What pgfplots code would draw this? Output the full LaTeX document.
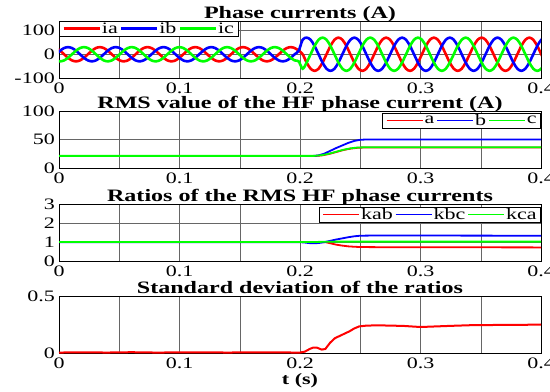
\documentclass[border=0pt]{standalone}
\usepackage{fontspec}
\setmainfont{Liberation Serif}[FakeStretch=1.38]
\usepackage{pgfplots}
\pgfplotsset{compat=1.18}
\usepackage{pgfplotstable}

\pgfplotstableread{
t ia ib ic
-0.0057 30 -15 -15
-0.0024 26 0 -26
0.0009 15 15 -30
0.0042 0 26 -26
0.0075 -15 30 -15
0.0108 -26 26 0
0.0141 -30 15 15
0.0174 -26 0 26
0.0207 -15 -15 30
0.0240 0 -26 26
0.0273 15 -30 15
0.0306 26 -26 0
0.0339 30 -15 -15
0.0372 26 0 -26
0.0405 15 15 -30
0.0438 0 26 -26
0.0471 -15 30 -15
0.0504 -26 26 0
0.0537 -30 15 15
0.0570 -26 0 26
0.0603 -15 -15 30
0.0636 0 -26 26
0.0669 15 -30 15
0.0702 26 -26 0
0.0735 30 -15 -15
0.0768 26 0 -26
0.0801 15 15 -30
0.0834 0 26 -26
0.0867 -15 30 -15
0.0900 -26 26 0
0.0933 -30 15 15
0.0966 -26 0 26
0.0999 -15 -15 30
0.1032 0 -26 26
0.1065 15 -30 15
0.1098 26 -26 0
0.1131 30 -15 -15
0.1164 26 0 -26
0.1197 15 15 -30
0.1230 0 26 -26
0.1263 -15 30 -15
0.1296 -26 26 0
0.1329 -30 15 15
0.1362 -26 0 26
0.1395 -15 -15 30
0.1428 0 -26 26
0.1461 15 -30 15
0.1494 26 -26 0
0.1527 30 -15 -15
0.1560 26 0 -26
0.1593 15 15 -30
0.1626 0 26 -26
0.1659 -15 30 -15
0.1692 -26 26 0
0.1725 -30 15 15
0.1758 -26 0 26
0.1791 -15 -15 30
0.1824 0 -26 26
0.1857 15 -30 15
0.1890 26 -26 0
0.1923 30 -15 -15
0.1956 26 0 -26
0.1989 15 15 -30
0.2022 0 61 -61
0.2055 -35 70 -35
0.2088 -61 61 0
0.2121 -70 35 35
0.2154 -61 0 61
0.2187 -35 -35 70
0.2220 0 -61 61
0.2253 35 -70 35
0.2286 61 -61 0
0.2319 70 -35 -35
0.2352 61 0 -61
0.2385 35 35 -70
0.2418 0 61 -61
0.2451 -35 70 -35
0.2484 -61 61 0
0.2517 -70 35 35
0.2550 -61 0 61
0.2583 -35 -35 70
0.2616 0 -61 61
0.2649 35 -70 35
0.2682 61 -61 0
0.2715 70 -35 -35
0.2748 61 0 -61
0.2781 35 35 -70
0.2814 0 61 -61
0.2847 -35 70 -35
0.2880 -61 61 0
0.2913 -70 35 35
0.2946 -61 0 61
0.2979 -35 -35 70
0.3012 0 -61 61
0.3045 35 -70 35
0.3078 61 -61 0
0.3111 70 -35 -35
0.3144 61 0 -61
0.3177 35 35 -70
0.3210 0 61 -61
0.3243 -35 70 -35
0.3276 -61 61 0
0.3309 -70 35 35
0.3342 -61 0 61
0.3375 -35 -35 70
0.3408 0 -61 61
0.3441 35 -70 35
0.3474 61 -61 0
0.3507 70 -35 -35
0.3540 61 0 -61
0.3573 35 35 -70
0.3606 0 61 -61
0.3639 -35 70 -35
0.3672 -61 61 0
0.3705 -70 35 35
0.3738 -61 0 61
0.3771 -35 -35 70
0.3804 0 -61 61
0.3837 35 -70 35
0.3870 61 -61 0
0.3903 70 -35 -35
0.3936 61 0 -61
0.3969 35 35 -70
0.4002 0 61 -61
0.4035 -35 70 -35
}\phasedata

\definecolor{mred}{RGB}{255,0,0}
\definecolor{mblue}{RGB}{0,0,255}
\definecolor{mgreen}{RGB}{0,255,0}

\pgfplotsset{
  every axis title/.style={at={(0.5,1)}, anchor=base, yshift=2.5bp, inner sep=0pt,
      font=\bfseries\fontsize{17.5}{18}\selectfont},
  myaxis/.style={
    scale only axis, width=482bp, height=57bp,
    xmin=0, xmax=0.4,
    xtick={0,0.1,0.2,0.3,0.4},
    xticklabels={0,0.1,0.2,0.3,0.4},
    minor xtick={0.05,0.15,0.25,0.35},
    xmajorgrids, xminorgrids, ymajorgrids,
    major grid style={line width=0.5bp, draw=black!60},
    minor grid style={line width=0.5bp, draw=black!60},
    major tick length=0pt, minor tick length=0pt,
    axis line style={line width=0.8bp},
    ticklabel style={font=\fontsize{16}{16}\selectfont},
    xticklabel style={inner sep=0pt, anchor=north, yshift=-5bp},
    yticklabel style={inner sep=0pt, anchor=east, xshift=-4bp},
    legend columns=-1,
    legend style={font=\fontsize{16}{16}\selectfont, draw=black, fill=white, line width=0.6bp,
      inner xsep=3bp, inner ysep=0pt, nodes={inner sep=1bp},
      /tikz/every even column/.append style={column sep=1bp}},
    legend image code/.code={\draw[##1] (0bp,0bp) -- (36bp,0bp);},
  }
}

\begin{document}
\begin{tikzpicture}
\path[use as bounding box] (0,0) rectangle (550bp,392bp);

% Axis 1: phase currents
\begin{axis}[myaxis, at={(59bp,314bp)}, anchor=south west,
  ymin=-100, ymax=140, ytick={-100,0,100}, yticklabels={-100,0,100},
  title={Phase currents (A)},
  legend style={at={(0,1)}, anchor=north west}]
\addplot[mred, line width=2.6bp, smooth] table[x=t, y=ia] {\phasedata};
\addplot[mblue, line width=2.6bp, smooth] table[x=t, y=ib] {\phasedata};
\addplot[mgreen, line width=2.6bp, smooth] table[x=t, y=ic] {\phasedata};
\legend{ia,ib,ic}
\end{axis}

% Axis 2: RMS values
\begin{axis}[myaxis, at={(59bp,224bp)}, anchor=south west,
  ymin=0, ymax=100, ytick={0,50,100}, yticklabels={0,50,100},
  title={RMS value of the HF phase current (A)}, clip=false,
  legend style={at={(1,1)}, anchor=north east, yshift=-2bp}]
\addplot[mred, line width=1.8bp] coordinates {(0,21) (0.05,21) (0.1,21) (0.15,21) (0.2,21) (0.212,21) (0.218,22) (0.224,24.5) (0.23,28) (0.236,31.5) (0.242,34) (0.248,35.5) (0.254,36) (0.3,36) (0.35,36) (0.4,36)};
\addplot[mblue, line width=1.8bp] coordinates {(0,21) (0.1,21) (0.2,21) (0.21,21) (0.215,22) (0.22,25) (0.225,30) (0.23,35) (0.235,39.5) (0.24,44) (0.245,47.5) (0.25,49.5) (0.255,50) (0.3,50) (0.35,50) (0.4,50)};
\addplot[mgreen, line width=1.8bp] coordinates {(0,21.3) (0.1,21.3) (0.2,21.3) (0.212,21.3) (0.218,22.5) (0.224,25) (0.23,28.5) (0.236,32) (0.242,34.5) (0.248,36) (0.254,36.3) (0.3,36.3) (0.35,36.3) (0.4,36.3)};
\legend{{a},{b},{c}}
\end{axis}

% Axis 3: ratios
\begin{axis}[myaxis, at={(59bp,131bp)}, anchor=south west,
  ymin=0, ymax=3, ytick={0,1,2,3}, yticklabels={0,1,2,3},
  title={Ratios of the RMS HF phase currents}, clip=false,
  legend style={at={(1,1)}, anchor=north east, yshift=-3bp}]
\addplot[mred, line width=1.8bp] coordinates {(0,1) (0.1,1) (0.2,1) (0.218,1) (0.222,0.98) (0.226,0.92) (0.23,0.86) (0.235,0.81) (0.24,0.77) (0.245,0.75) (0.25,0.735) (0.27,0.725) (0.3,0.72) (0.35,0.72) (0.4,0.715)};
\addplot[mblue, line width=1.8bp] coordinates {(0,0.99) (0.1,0.99) (0.2,0.99) (0.204,0.97) (0.208,0.94) (0.212,0.93) (0.216,0.95) (0.22,0.99) (0.225,1.06) (0.23,1.13) (0.235,1.19) (0.24,1.25) (0.245,1.3) (0.25,1.33) (0.26,1.34) (0.3,1.34) (0.35,1.335) (0.4,1.33)};
\addplot[mgreen, line width=1.8bp] coordinates {(0,1) (0.1,1) (0.2,1) (0.21,1) (0.22,1.01) (0.23,1.02) (0.25,1.02) (0.3,1.02) (0.4,1.02)};
\legend{kab,kbc,kca}
\end{axis}

% Axis 4: standard deviation
\begin{axis}[myaxis, at={(59bp,39bp)}, anchor=south west,
  ymin=0, ymax=0.5, ytick={0,0.5}, yticklabels={0,0.5},
  title={Standard deviation of the ratios}, clip=false,
  xlabel={t (s)},
  xlabel style={at={(0.5,0)}, anchor=base, yshift=-32bp, inner sep=0pt,
    font=\bfseries\fontsize{16}{16}\selectfont}]
\addplot[mred, line width=2bp] coordinates {(0,0.004) (0.02,0.006) (0.04,0.004) (0.06,0.007) (0.08,0.004) (0.1,0.005) (0.12,0.006) (0.14,0.004) (0.16,0.006) (0.18,0.005) (0.2,0.004) (0.204,0.012) (0.208,0.035) (0.211,0.048) (0.214,0.047) (0.218,0.03) (0.221,0.035) (0.225,0.09) (0.229,0.13) (0.233,0.15) (0.237,0.17) (0.241,0.19) (0.245,0.215) (0.249,0.233) (0.255,0.24) (0.265,0.243) (0.275,0.24) (0.285,0.238) (0.3,0.228) (0.31,0.232) (0.325,0.238) (0.345,0.245) (0.37,0.246) (0.385,0.247) (0.4,0.25)};
\end{axis}
\end{tikzpicture}
\end{document}
